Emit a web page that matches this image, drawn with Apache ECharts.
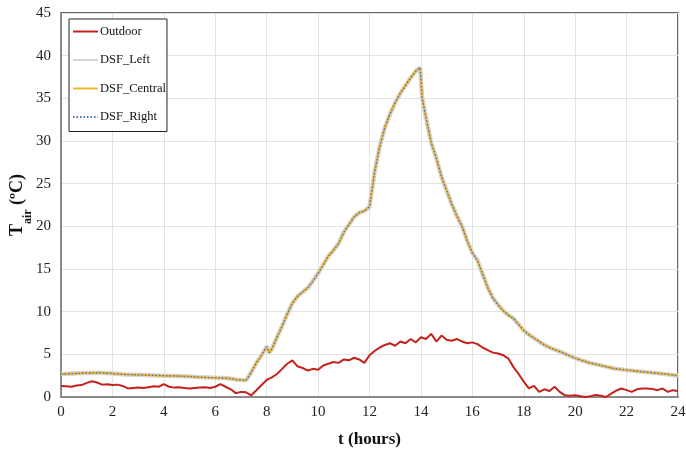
<!DOCTYPE html>
<html>
<head>
<meta charset="utf-8">
<script src="https://cdn.jsdelivr.net/npm/echarts@6/dist/echarts.min.js"></script>
<style>
  html, body { margin: 0; padding: 0; background: #fff; }
  #chart { width: 686px; height: 449px; }
</style>
</head>
<body>
<div id="chart"></div>
<script>
// outdoor air temperature, one reading every 0.2 h
const outdoorTemp = [
  1.3, 1.25, 1.2, 1.35, 1.4, 1.65, 1.85, 1.7, 1.45, 1.5,
  1.4, 1.45, 1.3, 1.0, 1.05, 1.1, 1.05, 1.15, 1.25, 1.2,
  1.5, 1.2, 1.1, 1.15, 1.05, 1.0, 1.05, 1.1, 1.15, 1.05,
  1.2, 1.5, 1.2, 0.9, 0.45, 0.6, 0.55, 0.2, 0.8, 1.4,
  2.0, 2.3, 2.7, 3.3, 3.9, 4.3, 3.6, 3.4, 3.1, 3.3,
  3.2, 3.7, 3.9, 4.1, 4.0, 4.4, 4.3, 4.6, 4.4, 4.0,
  4.9, 5.4, 5.8, 6.1, 6.3, 6.0, 6.5, 6.3, 6.8, 6.4,
  7.0, 6.8, 7.4, 6.5, 7.2, 6.7, 6.6, 6.8, 6.5, 6.3,
  6.4, 6.2, 5.8, 5.5, 5.2, 5.1, 4.9, 4.5, 3.5, 2.7,
  1.8, 1.0, 1.3, 0.6, 0.9, 0.7, 1.2, 0.6, 0.2, 0.15,
  0.2, 0.1, 0.0, 0.1, 0.25, 0.15, 0.0, 0.4, 0.75, 1.0,
  0.8, 0.6, 0.9, 1.0, 1.0, 0.95, 0.8, 1.0, 0.6, 0.8,
  0.7
]
const outdoorHours = outdoorTemp.map((v, i) => +(i * 0.2).toFixed(1))

// DSF cavity air temperature (the three sensors overlap)
const dsfHours = [
  0, 0.5, 1, 1.5, 2, 2.5, 3, 3.5, 4, 4.5, 5, 5.5, 6, 6.5, 6.8, 7, 7.2, 7.4, 7.6, 7.8,
  8, 8.1, 8.2, 8.4, 8.6, 8.8, 9, 9.2, 9.4, 9.6, 9.8, 10, 10.2, 10.4, 10.6, 10.8,
  11, 11.2, 11.4, 11.6, 11.8, 12, 12.1, 12.2, 12.4, 12.6, 12.8, 13, 13.2, 13.4, 13.6, 13.8,
  13.97, 14.05, 14.2, 14.4, 14.6, 14.8, 15, 15.2, 15.4, 15.6, 15.8, 16, 16.2, 16.4, 16.6, 16.8,
  17, 17.2, 17.4, 17.6, 17.8, 18, 18.2, 18.4, 18.6, 18.8, 19, 19.5, 20, 20.5, 21, 21.5,
  22, 22.5, 23, 23.5, 24
]
const dsfTemp = [
  2.7, 2.75, 2.8, 2.85, 2.75, 2.65, 2.6, 2.55, 2.5, 2.45, 2.4, 2.3, 2.25, 2.2, 2.05, 2.0, 1.95, 2.9, 4.0, 4.9,
  5.9, 5.2, 5.6, 7.0, 8.3, 9.7, 11.0, 11.8, 12.3, 12.8, 13.6, 14.5, 15.5, 16.5, 17.2, 18.0,
  19.3, 20.2, 21.1, 21.6, 21.8, 22.3, 24.3, 26.4, 29.4, 31.6, 33.2, 34.5, 35.6, 36.5, 37.4, 38.2,
  38.6, 35.0, 32.7, 29.8, 28.0, 25.8, 24.2, 22.6, 21.2, 20.0, 18.3, 16.9, 16.0, 14.4, 12.8, 11.6,
  10.8, 10.1, 9.6, 9.2, 8.5, 7.8, 7.3, 6.9, 6.5, 6.1, 5.8, 5.2, 4.55, 4.05, 3.7, 3.35,
  3.15, 3.0, 2.85, 2.7, 2.5
]

const seriesNames = ['Outdoor', 'DSF_Left', 'DSF_Central', 'DSF_Right']

const font = '"Liberation Serif", "DejaVu Serif", serif'

const outdoorData = outdoorHours.map((t, i) => [t, outdoorTemp[i]])
const dsfData = dsfHours.map((t, i) => [t, dsfTemp[i]])

const chart = echarts.init(document.getElementById('chart'))

const option = {
  animation: false,
  textStyle: { fontFamily: font },
  grid: {
    left: 61,
    right: 8,
    top: 13,
    bottom: 52,
    outerBoundsMode: 'none',
    containLabel: false,
    show: true,
    borderColor: '#333',
    borderWidth: 1.5
  },
  legend: {
    data: seriesNames,
    orient: 'vertical',
    left: 69,
    top: 19,
    itemWidth: 25,
    itemHeight: 14,
    itemGap: 15.5,
    padding: [6, 1, 8, 3],
    backgroundColor: '#fff',
    borderColor: '#222',
    borderWidth: 1,
    itemStyle: { opacity: 0 },
    textStyle: { fontFamily: font, fontSize: 12.5, color: '#111', padding: [0, 0, 0, -3] }
  },
  xAxis: {
    type: 'value',
    min: 0,
    max: 24,
    interval: 2,
    name: 't (hours)',
    nameLocation: 'middle',
    nameGap: 34,
    nameMoveOverlap: false,
    nameTextStyle: { fontFamily: font, fontSize: 17, fontWeight: 'bold', color: '#111' },
    axisLine: { lineStyle: { color: '#8a8a8a', width: 2 } },
    axisTick: { show: false },
    axisLabel: { fontFamily: font, fontSize: 15, color: '#222', margin: 8 },
    splitLine: { lineStyle: { color: '#e2e2e2', width: 1 } }
  },
  yAxis: {
    type: 'value',
    min: 0,
    max: 45,
    interval: 5,
    name: '{a|T}{b|air}{a| (ºC)}',
    nameLocation: 'middle',
    nameGap: 31,
    nameMoveOverlap: false,
    nameTextStyle: {
      rich: {
        a: { fontFamily: font, fontSize: 18, fontWeight: 'bold', color: '#111', lineHeight: 26, verticalAlign: 'middle' },
        b: { fontFamily: font, fontSize: 12, fontWeight: 'bold', color: '#111', lineHeight: 26, verticalAlign: 'bottom', padding: [0, 0, -4, 0] }
      }
    },
    axisLine: { show: true, lineStyle: { color: '#8a8a8a', width: 2 } },
    axisTick: { show: false },
    axisLabel: { fontFamily: font, fontSize: 15, color: '#222', margin: 10 },
    splitLine: { lineStyle: { color: '#e2e2e2', width: 1 } }
  },
  series: [
    {
      name: 'Outdoor',
      type: 'line',
      data: outdoorData,
      symbol: 'none',
      z: 5,
      itemStyle: { color: '#c3231b' },
      lineStyle: { color: '#c3231b', width: 2 }
    },
    {
      name: 'DSF_Left',
      type: 'line',
      data: dsfData,
      symbol: 'none',
      z: 2,
      itemStyle: { color: '#d6d6d6' },
      lineStyle: { color: '#d6d6d6', width: 4.5 }
    },
    {
      name: 'DSF_Central',
      type: 'line',
      data: dsfData,
      symbol: 'none',
      z: 3,
      itemStyle: { color: '#f2b62a' },
      lineStyle: { color: '#f2b62a', width: 2 }
    },
    {
      name: 'DSF_Right',
      type: 'line',
      data: dsfData,
      symbol: 'none',
      z: 4,
      itemStyle: { color: '#4a70b8' },
      lineStyle: { color: '#4a70b8', width: 1.3, type: [1.5, 2] }
    }
  ]
}

chart.setOption(option)
</script>
</body>
</html>
